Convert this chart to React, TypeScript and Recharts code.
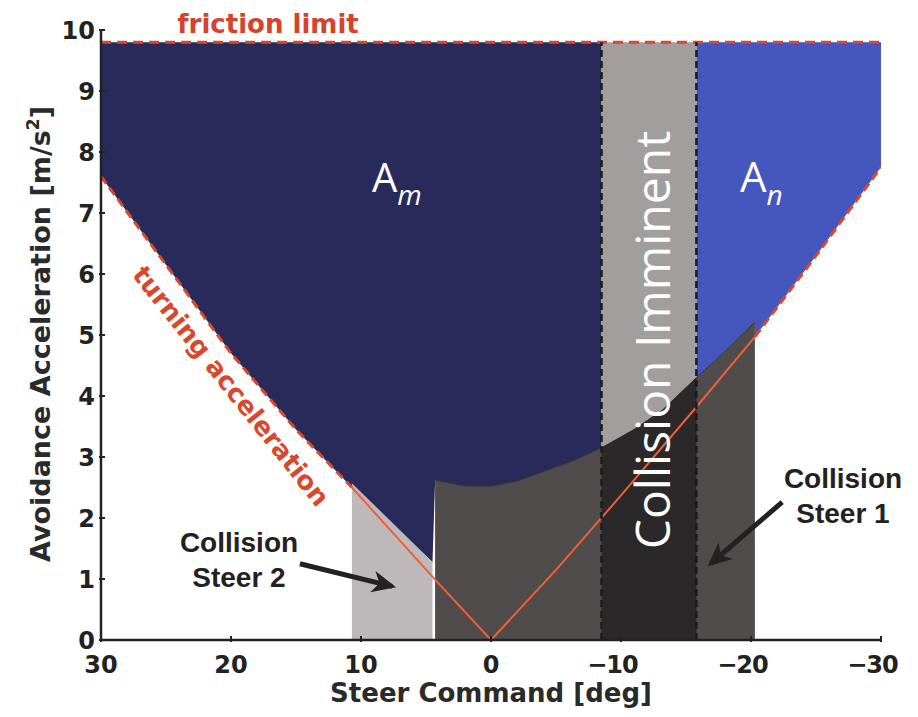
import React from 'react';
import { ComposedChart, Area, Line, XAxis, YAxis } from 'recharts';

// axis ticks
const xTicks = [30, 20, 10, 0, -10, -20, -30];
const yTicks = [0, 1, 2, 3, 4, 5, 6, 7, 8, 9, 10];

const frictionLimit = 9.8;

// turning acceleration (orange line), dashed outside the collision zones
const turnLeftX = [30, 25, 20, 15, 10.7];
const turnLeftY = [7.6, 6.15, 4.7, 3.45, 2.5];
const turnMidX = [10.7, 4.3, 0, -5, -10, -15.8, -20.3];
const turnMidY = [2.5, 0.99, 0, 1.15, 2.37, 3.82, 4.97];
const turnRightX = [-20.3, -25, -30];
const turnRightY = [4.97, 6.3, 7.75];

// Collision Steer 1: upper boundary of the dark grey zone
const steer1X = [4.3, 2, 0, -2, -4.3, -6.5, -8.5, -11, -13.2, -15.8, -18, -20.3];
const steer1Y = [2.62, 2.52, 2.52, 2.6, 2.78, 2.95, 3.15, 3.45, 3.77, 4.3, 4.73, 5.21];

// Collision Steer 2: light grey strip
const steer2X = [10.7, 4.5];
const steer2Y = [2.57, 1.28];

// Collision Imminent band edges
const imminentX = [-8.5, -15.8];

// arrows [tailX, tailY, tipX, tipY]
const arrowSteer2 = [14.7, 1.25, 7.6, 0.88];
const arrowSteer1 = [-22.4, 2.26, -16.9, 1.25];

const pts = (xs: number[], ys: number[]) => xs.map((x, i) => ({ x, y: ys[i] }));
const band = (xs: number[], lo: number[], hi: number[]) =>
  xs.map((x, i) => ({ x, r: [lo[i], hi[i]] }));

const turnLeft = pts(turnLeftX, turnLeftY);
const turnMid = pts(turnMidX, turnMidY);
const turnRight = pts(turnRightX, turnRightY);

const steer1 = pts(steer1X, steer1Y);
const steer2 = pts(steer2X, steer2Y);

const amLower = [
  ...turnLeft,
  ...steer2.slice(1),
  ...steer1.filter((p) => p.x >= imminentX[0]),
];
const amData = amLower.map((p) => ({ x: p.x, r: [p.y, frictionLimit] }));

const anLower = [...steer1.filter((p) => p.x <= imminentX[1]), ...turnRight];
const anData = anLower.map((p) => ({ x: p.x, r: [p.y, frictionLimit] }));

const imminentData = band(imminentX, [0, 0], [frictionLimit, frictionLimit]);
const imminentLow = steer1
  .filter((p) => p.x <= imminentX[0] && p.x >= imminentX[1])
  .map((p) => ({ x: p.x, r: [0, p.y] }));
const steer1Data = steer1.map((p) => ({ x: p.x, r: [0, p.y] }));
const steer2Data = steer2.map((p) => ({ x: p.x, r: [0, p.y] }));

const frictionData = [
  { x: 30, y: frictionLimit },
  { x: -30, y: frictionLimit },
];
const edgeA = [
  { x: imminentX[0], y: 0 },
  { x: imminentX[0], y: frictionLimit },
];
const edgeB = [
  { x: imminentX[1], y: 0 },
  { x: imminentX[1], y: frictionLimit },
];
const arrow = (a: number[]) => [
  { x: a[0], y: a[1] },
  { x: a[2], y: a[3] },
];

const tickFont = "'DejaVu Sans', sans-serif";
const ink = '#222';

// digits centred on the tick, the minus sign hanging to the left
const XTick = (props: any) => {
  const { x, y, payload } = props;
  const v = payload.value as number;
  const digits = String(Math.abs(v));
  const half = (digits.length * 0.696 * 24) / 2;
  return (
    <g>
      <line x1={x} y1={y} x2={x} y2={y - 6} stroke={ink} strokeWidth={2} />
      <text x={v < 0 ? x + half : x} y={y + 31} textAnchor={v < 0 ? 'end' : 'middle'}
        fontFamily={tickFont} fontWeight={700} fontSize={24} fill={ink} letterSpacing={v < 0 ? -1 : 0}>
        {v < 0 ? '\u2212' + digits : digits}
      </text>
    </g>
  );
};

const YTick = (props: any) => {
  const { x, y, payload } = props;
  return (
    <g>
      <line x1={x} y1={y} x2={x + 6} y2={y} stroke={ink} strokeWidth={2} />
      <text x={x - 4} y={y + 8.5} textAnchor="end" fontFamily={tickFont} fontWeight={700} fontSize={24} fill={ink}>
        {payload.value}
      </text>
    </g>
  );
};

export default function App() {
  return (
    <div style={{ position: 'absolute', left: 0, top: 0, width: 918, height: 717, background: '#fff' }}>
      <ComposedChart width={918} height={717} margin={{ top: 30, right: 37, bottom: 0, left: 0 }}>
        <defs>
          <marker id="head" viewBox="0 0 24 24" markerWidth={24} markerHeight={24} refX={20} refY={12}
            orient="auto" markerUnits="userSpaceOnUse">
            <path d="M0,1 L24,12 L0,23 L7,12 Z" fill={ink} />
          </marker>
        </defs>
        <XAxis dataKey="x" type="number" domain={[-30, 30]} reversed allowDataOverflow ticks={xTicks}
          interval={0} tick={<XTick />} tickLine={false} tickSize={0} height={77}
          axisLine={{ stroke: ink, strokeWidth: 2.5 }} />
        <YAxis type="number" domain={[0, 10]} allowDataOverflow ticks={yTicks} interval={0}
          tick={<YTick />} tickLine={false} tickSize={0} width={101}
          axisLine={{ stroke: ink, strokeWidth: 2.5 }} />

        <Area data={amData} dataKey="r" type="linear" fill="#282b5a" fillOpacity={1} stroke="none" isAnimationActive={false} />
        <Area data={anData} dataKey="r" type="linear" fill="#4557bf" fillOpacity={1} stroke="none" isAnimationActive={false} />
        <Area data={imminentData} dataKey="r" type="linear" fill="#a29e9e" fillOpacity={1} stroke="none" isAnimationActive={false} />
        <Area data={steer1Data} dataKey="r" type="linear" fill="#504c4c" fillOpacity={1} stroke="#353333" strokeWidth={1} isAnimationActive={false} />
        <Area data={imminentLow} dataKey="r" type="linear" fill="#2a2828" fillOpacity={1} stroke="none" isAnimationActive={false} />
        <Area data={steer2Data} dataKey="r" type="linear" fill="#bdb9ba" fillOpacity={1} stroke="none" isAnimationActive={false} />

        <Line data={turnLeft} dataKey="y" type="linear" stroke="#d9482c" strokeWidth={3} strokeDasharray="9 5" dot={false} isAnimationActive={false} />
        <Line data={turnMid} dataKey="y" type="linear" stroke="#ee5f3a" strokeWidth={2} dot={false} isAnimationActive={false} />
        <Line data={turnRight} dataKey="y" type="linear" stroke="#d9482c" strokeWidth={3} strokeDasharray="9 5" dot={false} isAnimationActive={false} />
        <Line data={frictionData} dataKey="y" type="linear" stroke="#d9482c" strokeWidth={3} strokeDasharray="10 6" dot={false} isAnimationActive={false} />
        <Line data={edgeA} dataKey="y" type="linear" stroke="#1c1c1c" strokeWidth={2.5} strokeDasharray="7 4" dot={false} isAnimationActive={false} />
        <Line data={edgeB} dataKey="y" type="linear" stroke="#1c1c1c" strokeWidth={2.5} strokeDasharray="7 4" dot={false} isAnimationActive={false} />
        <Line data={arrow(arrowSteer2)} dataKey="y" type="linear" stroke={ink} strokeWidth={5} markerEnd="url(#head)" dot={false} isAnimationActive={false} />
        <Line data={arrow(arrowSteer1)} dataKey="y" type="linear" stroke={ink} strokeWidth={5} markerEnd="url(#head)" dot={false} isAnimationActive={false} />
      </ComposedChart>

      {/* annotations on top of the plot */}
      <svg width={918} height={717} style={{ position: 'absolute', left: 0, top: 0, pointerEvents: 'none' }}>
        <text x={268} y={33} textAnchor="middle" fontFamily={tickFont} fontWeight={700} fontSize={26} fill="#d4432b">
          friction limit
        </text>
        <text transform="translate(231,386) rotate(51.5)" textAnchor="middle" dominantBaseline="central"
          fontFamily={tickFont} fontWeight={700} fontSize={26} fill="#d9482c">
          turning acceleration
        </text>
        <text x={372} y={192} fontFamily="'Open Sans', sans-serif" fontSize={40} fill="#fff">
          A<tspan fontStyle="italic" fontSize={28} dy={13}>m</tspan>
        </text>
        <text x={740} y={192} fontFamily="'Open Sans', sans-serif" fontSize={42} fill="#fff">
          A<tspan fontStyle="italic" fontSize={28} dy={13}>n</tspan>
        </text>
        <text transform="translate(670,340) rotate(-90)" textAnchor="middle" fontFamily="'Open Sans', sans-serif"
          fontSize={48} fill="#fff">
          Collision Imminent
        </text>
        <text textAnchor="middle" fontFamily="'Liberation Sans', Arial, sans-serif" fontWeight={700} fontSize={28} fill={ink}>
          <tspan x={239} y={552}>Collision</tspan>
          <tspan x={239} y={587}>Steer 2</tspan>
        </text>
        <text textAnchor="middle" fontFamily="'Liberation Sans', Arial, sans-serif" fontWeight={700} fontSize={28} fill={ink}>
          <tspan x={843} y={488}>Collision</tspan>
          <tspan x={843} y={523}>Steer 1</tspan>
        </text>
        <text x={491} y={702} textAnchor="middle" fontFamily={tickFont} fontWeight={700} fontSize={26} fill="#2a2a2a">
          Steer Command [deg]
        </text>
        <text transform="translate(50,334) rotate(-90)" textAnchor="middle" fontFamily={tickFont} fontWeight={700}
          fontSize={27} fill="#2a2a2a">
          Avoidance Acceleration [m/s<tspan fontSize={17} dy={-11}>2</tspan><tspan dy={11}>]</tspan>
        </text>
      </svg>
    </div>
  );
}
